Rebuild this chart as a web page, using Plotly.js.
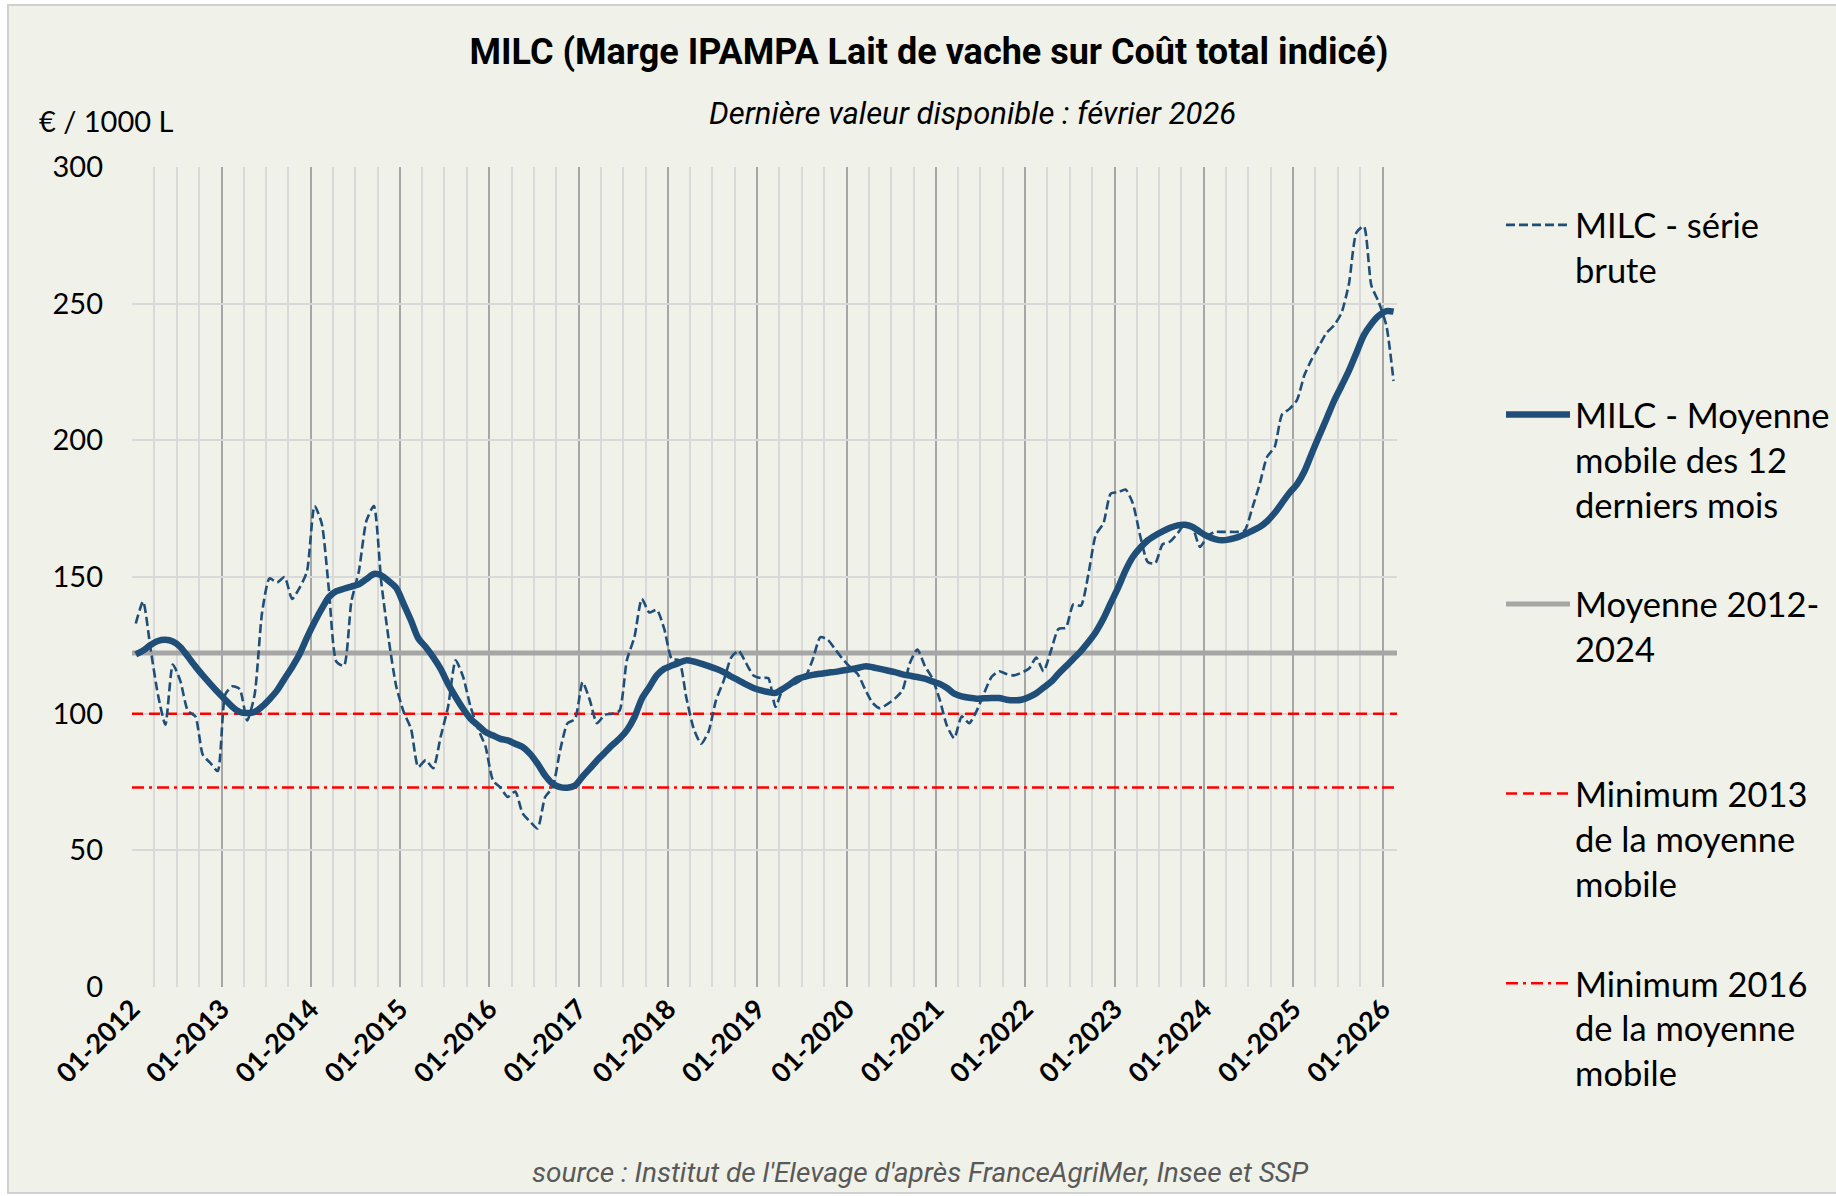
<!DOCTYPE html>
<html>
<head>
<meta charset="utf-8">
<script src="https://cdn.plot.ly/plotly-3.0.1.min.js"></script>
<style>
  html, body { margin: 0; padding: 0; background: #ffffff; }
  #chart { width: 1836px; height: 1196px; }
</style>
</head>
<body>
<div id="chart"></div>
<script>
// ---- Data ----
const months = [
  "2012-01","2012-02","2012-03","2012-04","2012-05","2012-06","2012-07","2012-08","2012-09","2012-10","2012-11","2012-12",
  "2013-01","2013-02","2013-03","2013-04","2013-05","2013-06","2013-07","2013-08","2013-09","2013-10","2013-11","2013-12",
  "2014-01","2014-02","2014-03","2014-04","2014-05","2014-06","2014-07","2014-08","2014-09","2014-10","2014-11","2014-12",
  "2015-01","2015-02","2015-03","2015-04","2015-05","2015-06","2015-07","2015-08","2015-09","2015-10","2015-11","2015-12",
  "2016-01","2016-02","2016-03","2016-04","2016-05","2016-06","2016-07","2016-08","2016-09","2016-10","2016-11","2016-12",
  "2017-01","2017-02","2017-03","2017-04","2017-05","2017-06","2017-07","2017-08","2017-09","2017-10","2017-11","2017-12",
  "2018-01","2018-02","2018-03","2018-04","2018-05","2018-06","2018-07","2018-08","2018-09","2018-10","2018-11","2018-12",
  "2019-01","2019-02","2019-03","2019-04","2019-05","2019-06","2019-07","2019-08","2019-09","2019-10","2019-11","2019-12",
  "2020-01","2020-02","2020-03","2020-04","2020-05","2020-06","2020-07","2020-08","2020-09","2020-10","2020-11","2020-12",
  "2021-01","2021-02","2021-03","2021-04","2021-05","2021-06","2021-07","2021-08","2021-09","2021-10","2021-11","2021-12",
  "2022-01","2022-02","2022-03","2022-04","2022-05","2022-06","2022-07","2022-08","2022-09","2022-10","2022-11","2022-12",
  "2023-01","2023-02","2023-03","2023-04","2023-05","2023-06","2023-07","2023-08","2023-09","2023-10","2023-11","2023-12",
  "2024-01","2024-02","2024-03","2024-04","2024-05","2024-06","2024-07","2024-08","2024-09","2024-10","2024-11","2024-12",
  "2025-01","2025-02","2025-03","2025-04","2025-05","2025-06","2025-07","2025-08","2025-09","2025-10","2025-11","2025-12",
  "2026-01","2026-02"
];

// MILC - série brute (€ / 1000 L)
const milcBrute = [
  133, 141, 124, 107, 96, 118, 112, 101, 99, 85, 82, 79,
  107, 110, 109, 97.5, 107, 137, 149.5, 148, 150, 142, 146, 152,
  176, 169.5, 145, 119, 117.5, 141, 152, 170.5, 176, 148, 127, 110,
  100.5, 94.5, 80.5, 83, 80, 91.5, 102.5, 119.5, 113.5, 102.5, 94.5, 88,
  75.5, 73, 69.5, 71.5, 63.5, 60.5, 58, 69.5, 73, 86.5, 96.5, 98,
  111.5, 105, 96.5, 99.5, 100, 101, 119.5, 128, 142, 137, 138, 131,
  120, 119.5, 106, 94.5, 89, 93.5, 105, 112, 120.5, 123, 118.5, 114,
  113, 113, 102.5, 109, 110, 111.5, 113.5, 120, 128, 127, 123.5, 120,
  117, 114.5, 109, 104, 102, 103.5, 105.5, 108.5, 118.5, 123.5, 117.5, 113,
  105, 95.5, 91, 99, 96.5, 101, 107.5, 113.5, 115.5, 114.5, 114, 115,
  116.5, 120.5, 115.5, 123, 131, 131.5, 140, 139.5, 151, 165.5, 169.5, 180.5,
  181, 182, 177, 165, 155.5, 155, 162, 163, 166, 169.5, 168, 161,
  165, 166.5, 166.5, 166.5, 166.5, 167, 175, 184, 194, 197.5, 209.5, 211.5,
  214.8, 223.8, 229.5, 234.5, 239.3, 242, 246.5, 257.3, 276, 278.3, 256.7, 250.5,
  242, 221.7
];

// MILC - Moyenne mobile des 12 derniers mois
const milcMoyenneMobile = [
  121.7, 123.1, 125.1, 126.6, 127.0, 126.4, 124.4, 120.9, 117.3, 114.0, 110.9, 107.9,
  105.1, 102.4, 100.6, 100.2, 100.6, 102.6, 105.3, 108.5, 112.8, 117.0, 121.7, 127.8,
  133.5, 138.4, 142.7, 144.8, 145.7, 146.5, 147.3, 149.2, 151.1, 150.6, 148.5, 146.0,
  140.0, 134.1, 127.6, 124.4, 120.7, 116.4, 110.9, 106.1, 101.8, 98.1, 95.7, 93.3,
  92.0, 90.8, 90.2, 89.0, 87.8, 85.3, 81.7, 77.4, 74.4, 73.1, 72.9, 73.7,
  77.0, 79.9, 82.9, 85.6, 88.4, 90.8, 93.9, 98.7, 105.5, 109.7, 114.0, 116.4,
  117.6, 118.6, 119.5, 119.1, 118.3, 117.4, 116.4, 115.2, 113.6, 112.2, 110.7, 109.4,
  108.5, 107.9, 107.6, 109.1, 110.9, 112.8, 113.6, 114.2, 114.6, 115.0, 115.3, 115.8,
  116.2, 116.7, 117.3, 117.0, 116.4, 115.8, 115.2, 114.4, 113.9, 113.4, 112.8, 111.8,
  110.9, 109.4, 107.3, 106.3, 105.8, 105.5, 105.6, 105.7, 105.7, 105.1, 104.9, 105.1,
  106.1, 107.5, 109.5, 111.6, 114.6, 117.3, 120.1, 122.9, 126.2, 129.9, 134.7, 140.5,
  146.3, 152.4, 157.3, 160.7, 163.4, 165.2, 166.7, 168.0, 168.9, 169.1, 168.3, 166.5,
  164.9, 163.9, 163.4, 163.8, 164.5, 165.6, 166.9, 168.3, 170.4, 173.4, 177.1, 180.8,
  184.0, 188.6, 195.0, 201.5, 207.8, 214.3, 219.8, 225.5, 232.0, 238.5, 242.6, 245.6,
  247.3, 247.1
];

// Reference levels
const moyenne2012_2024 = 122.2;
const minimum2013 = 100;
const minimum2016 = 73;

// Names / texts
const seriesNames = [
  "MILC - série<br>brute<br>\u00a0",
  "MILC - Moyenne<br>mobile des 12<br>derniers mois",
  "Moyenne 2012-<br>2024<br>\u00a0",
  "Minimum 2013<br>de la moyenne<br>mobile",
  "Minimum 2016<br>de la moyenne<br>mobile"
];
const yTickValues = [0, 50, 100, 150, 200, 250, 300];
const xRange = ["2012-01-01", "2026-03-01"];

const chartTitle = "MILC (Marge IPAMPA Lait de vache sur Coût total indicé)";
const subTitle = "Dernière valeur disponible : février 2026";
const unitLabel = "€ / 1000 L";
const sourceText = "source : Institut de l'Elevage d'après FranceAgriMer, Insee et SSP";

// ---- Styling ----
const blue = "#1f4e79";
const bg = "#f0f1e8";
const narrow = "Roboto, sans-serif";
const body = "Lato, 'Open Sans', sans-serif";

// geometry of plot area (px)
const W = 1836, H = 1196;
const L = 132, R = 439, T = 167, B = 209;
const pw = W - L - R, ph = H - T - B;
const px = v => (v - L) / pw;
const py = v => (H - B - v) / ph;

const traces = [
  {
    x: xRange, y: [moyenne2012_2024, moyenne2012_2024],
    type: "scatter", mode: "lines", name: seriesNames[2],
    legendgroup: "g3", legendrank: 3,
    line: { color: "#a6a6a6", width: 5 }, hoverinfo: "skip"
  },
  {
    x: xRange, y: [minimum2013, minimum2013],
    type: "scatter", mode: "lines", name: seriesNames[3],
    legendgroup: "g4", legendrank: 4,
    line: { color: "#ff0000", width: 2.5, dash: "11px,6px" }, hoverinfo: "skip"
  },
  {
    x: xRange, y: [minimum2016, minimum2016],
    type: "scatter", mode: "lines", name: seriesNames[4],
    legendgroup: "g5", legendrank: 5,
    line: { color: "#ff0000", width: 2.5, dash: "12px,5px,3px,5px" }, hoverinfo: "skip"
  },
  {
    x: months, y: milcBrute, xperiod: "M1", xperiodalignment: "middle",
    type: "scatter", mode: "lines", name: seriesNames[0],
    legendgroup: "g1", legendrank: 1,
    line: { color: blue, width: 2.6, dash: "9px,4px", shape: "spline", smoothing: 0.6 }
  },
  {
    x: months, y: milcMoyenneMobile, xperiod: "M1", xperiodalignment: "middle",
    type: "scatter", mode: "lines", name: seriesNames[1],
    legendgroup: "g2", legendrank: 2,
    line: { color: blue, width: 6.5, shape: "spline", smoothing: 0.8 }
  }
];

const layout = {
  width: W, height: H, autosize: false,
  paper_bgcolor: "#ffffff",
  plot_bgcolor: "rgba(0,0,0,0)",
  margin: { l: L, r: R, t: T, b: B, pad: 0 },
  title: {
    text: "<b>" + chartTitle + "</b>",
    font: { family: narrow, size: 36, color: "#000000" },
    x: 929 / W, xanchor: "center", xref: "container",
    y: 1 - 51 / H, yanchor: "middle", yref: "container"
  },
  xaxis: {
    type: "date",
    range: xRange,
    tick0: "2012-01-01", dtick: "M12",
    tickformat: "%m-%Y",
    tickangle: -45,
    ticks: "",
    tickfont: { family: body, size: 27, color: "#000000", weight: 700 },
    showgrid: true, gridcolor: "#a6a6a6", gridwidth: 2,
    minor: { tick0: "2012-01-01", dtick: "M3", showgrid: true, gridcolor: "#d9d9d9", gridwidth: 2 },
    showline: false, zeroline: false, fixedrange: true
  },
  yaxis: {
    range: [0, 300],
    tickvals: yTickValues,
    ticks: "", ticklen: 0,
    tickfont: { family: body, size: 29, color: "#000000" },
    showgrid: true, gridcolor: "#d9d9d9", gridwidth: 2,
    showline: false, zeroline: false, fixedrange: true,
    ticklabelstandoff: 28
  },
  showlegend: true,
  legend: {
    xref: "container", yref: "container",
    x: 1501 / W, xanchor: "left",
    y: 1 - 196 / H, yanchor: "top",
    bgcolor: "rgba(0,0,0,0)",
    font: { family: body, size: 34.5, color: "#000000" },
    traceorder: "grouped",
    tracegroupgap: 52,
    valign: "top",
    itemwidth: 64,
    maxheight: 1000
  },
  shapes: [
    {
      type: "rect", xref: "paper", yref: "paper", layer: "below",
      x0: px(8), x1: px(1850), y0: py(1193), y1: py(5),
      line: { color: "#d0d0d0", width: 2 }, fillcolor: bg
    }
  ],
  annotations: [
    {
      text: "<i>" + subTitle + "</i>",
      xref: "paper", yref: "paper",
      x: px(972), y: py(114), xanchor: "center", yanchor: "middle",
      showarrow: false,
      font: { family: narrow, size: 31, color: "#000000" }
    },
    {
      text: unitLabel,
      xref: "paper", yref: "paper",
      x: px(37), y: py(121), xanchor: "left", yanchor: "middle",
      showarrow: false,
      font: { family: body, size: 29, color: "#000000" }
    },
    {
      text: "<i>" + sourceText + "</i>",
      xref: "paper", yref: "paper",
      x: px(921), y: py(1172), xanchor: "center", yanchor: "middle",
      showarrow: false,
      font: { family: narrow, size: 28, color: "#595959" }
    }
  ]
};

Plotly.newPlot("chart", traces, layout, { staticPlot: true, displayModeBar: false });
</script>
</body>
</html>
